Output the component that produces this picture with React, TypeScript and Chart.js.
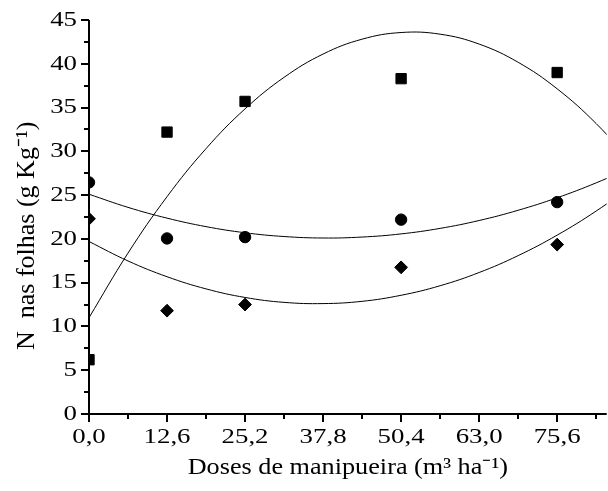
import { useEffect, useRef } from 'react';
import { Chart, registerables } from 'chart.js';

Chart.register(...registerables);

// Observed data (doses of manipueira, m3/ha)
const X_DOSES = [0, 12.6, 25.2, 50.4, 75.6];
const SQUARE_VALUES = [6.2, 32.2, 35.7, 38.3, 39.0];
const CIRCLE_VALUES = [26.45, 20.05, 20.2, 22.2, 24.2];
const DIAMOND_VALUES = [22.3, 11.8, 12.5, 16.75, 19.35];

// Fitted trend curves at regular doses
const CURVE_X = [0, 6.3, 12.6, 18.9, 25.2, 31.5, 37.8, 44.1, 50.4, 56.7, 63.0, 69.3, 75.6, 81.9, 88.2];
const SQUARE_FIT = [11.0, 18.38, 24.82, 30.31, 34.85, 38.45, 41.11, 42.81, 43.57, 43.38, 42.25, 40.17, 37.14, 33.17, 28.26];
const CIRCLE_FIT = [25.1, 23.6, 22.37, 21.4, 20.7, 20.27, 20.1, 20.21, 20.57, 21.2, 22.1, 23.27, 24.7, 26.4, 28.36];
const DIAMOND_FIT = [19.7, 17.48, 15.68, 14.29, 13.31, 12.75, 12.61, 12.87, 13.56, 14.65, 16.16, 18.09, 20.43, 23.18, 26.35];

// Axes
const X_TICKS = [0, 12.6, 25.2, 37.8, 50.4, 63.0, 75.6];
const X_TICK_LABELS = ['0,0', '12,6', '25,2', '37,8', '50,4', '63,0', '75,6'];
const X_MINOR_TICKS = [6.3, 18.9, 31.5, 44.1, 56.7, 69.3, 81.9];
const X_MIN = 0;
const X_MAX = 83.6;
const Y_TICKS = [0, 5, 10, 15, 20, 25, 30, 35, 40, 45];
const Y_TICK_LABELS = ['0', '5', '10', '15', '20', '25', '30', '35', '40', '45'];
const Y_MINOR_TICKS = [2.5, 7.5, 12.5, 17.5, 22.5, 27.5, 32.5, 37.5, 42.5];
const Y_MIN = 0;
const Y_MAX = 45;

const X_TITLE = 'Doses de manipueira (m³ ha⁻¹)';
const Y_TITLE = 'N  nas folhas (g Kg⁻¹)     \u2009';

const FONT_FAMILY = '"Liberation Serif", "Times New Roman", serif';
const TICK_FONT_SIZE = 22;
const X_TITLE_FONT_SIZE = 23;
const Y_TITLE_FONT_SIZE = 26;
// the reference's horizontal texts are drawn wider than a plain Times face
const TEXT_STRETCH: Record<number, number> = { 22: 1.22, 23: 1.14 };

const pts = (xs: number[], ys: number[]) => xs.map((x, i) => ({ x, y: ys[i] }));

const stretchPlugin = {
  id: 'textStretch',
  beforeDraw(chart: any) {
    const ctx = chart.ctx as any;
    if (ctx.__origFillText) return;
    const orig = ctx.fillText;
    ctx.__origFillText = orig;
    ctx.fillText = function (text: string, x: number, y: number, maxWidth?: number) {
      const m = /(\d+(?:\.\d+)?)px/.exec(this.font);
      const k = m ? TEXT_STRETCH[Math.round(parseFloat(m[1]))] || 1 : 1;
      const call = (tx: number, ty: number) =>
        maxWidth === undefined ? orig.call(this, text, tx, ty) : orig.call(this, text, tx, ty, maxWidth);
      if (k === 1) return call(x, y);
      this.save();
      this.translate(x, y);
      this.scale(k, 1);
      call(0, 0);
      this.restore();
    };
  },
  beforeDatasetsDraw(chart: any) {
    const ctx = chart.ctx as any;
    if (ctx.__origFillText) {
      ctx.fillText = ctx.__origFillText;
      delete ctx.__origFillText;
    }
  },
};

const axesPlugin = {
  id: 'axesTicks',
  afterDraw(chart: any) {
    const { ctx, chartArea, scales } = chart;
    const { left, right, top, bottom } = chartArea;
    const xs = scales.x;
    const ys = scales.y;
    ctx.save();
    ctx.strokeStyle = '#000';
    ctx.lineWidth = 2;
    ctx.lineCap = 'butt';
    ctx.beginPath();
    ctx.moveTo(left, top);
    ctx.lineTo(left, bottom + 1);
    ctx.moveTo(left - 1, bottom);
    ctx.lineTo(right, bottom);
    X_TICKS.forEach((v) => {
      const p = Math.round(xs.getPixelForValue(v));
      ctx.moveTo(p, bottom);
      ctx.lineTo(p, bottom + 8);
    });
    X_MINOR_TICKS.forEach((v) => {
      const p = Math.round(xs.getPixelForValue(v));
      ctx.moveTo(p, bottom);
      ctx.lineTo(p, bottom + 5);
    });
    Y_TICKS.forEach((v) => {
      const p = Math.round(ys.getPixelForValue(v));
      ctx.moveTo(left, p);
      ctx.lineTo(left - 8, p);
    });
    Y_MINOR_TICKS.forEach((v) => {
      const p = Math.round(ys.getPixelForValue(v));
      ctx.moveTo(left, p);
      ctx.lineTo(left - 5, p);
    });
    ctx.stroke();
    ctx.restore();
  },
};

export default function App() {
  const canvasRef = useRef<HTMLCanvasElement | null>(null);

  useEffect(() => {
    if (!canvasRef.current) return;
    const pointDataset = (data: number[], style: string, radius: number) => ({
      type: 'scatter' as const,
      data: pts(X_DOSES, data),
      showLine: false,
      pointStyle: style,
      pointRadius: radius,
      pointBackgroundColor: '#000',
      pointBorderColor: '#000',
      pointBorderWidth: 1,
      clip: 0,
    });
    const curveDataset = (data: number[]) => ({
      type: 'line' as const,
      data: pts(CURVE_X, data),
      showLine: true,
      borderColor: '#000',
      borderWidth: 1,
      pointRadius: 0,
      tension: 0.4,
      fill: false,
      clip: 0,
    });

    const chart = new Chart(canvasRef.current, {
      type: 'scatter',
      data: {
        datasets: [
          curveDataset(SQUARE_FIT),
          curveDataset(CIRCLE_FIT),
          curveDataset(DIAMOND_FIT),
          pointDataset(SQUARE_VALUES, 'rect', 7.3),
          pointDataset(CIRCLE_VALUES, 'circle', 5.7),
          pointDataset(DIAMOND_VALUES, 'rectRot', 6.4),
        ] as any,
      },
      options: {
        animation: false,
        responsive: true,
        maintainAspectRatio: false,
        layout: { padding: { top: 20, right: 1, left: 0, bottom: 0 } },
        plugins: {
          legend: { display: false },
          tooltip: { enabled: false },
        },
        scales: {
          x: {
            type: 'linear',
            min: X_MIN,
            max: X_MAX,
            afterBuildTicks: (s: any) => {
              s.ticks = X_TICKS.map((v) => ({ value: v }));
            },
            afterFit: (s: any) => {
              s.height = 77;
              s.paddingLeft = 0;
              s.paddingRight = 0;
            },
            ticks: {
              autoSkip: false,
              maxRotation: 0,
              padding: 10,
              color: '#000',
              font: { family: FONT_FAMILY, size: TICK_FONT_SIZE },
              callback: (_v: any, i: number) => X_TICK_LABELS[i] ?? '',
            },
            grid: { display: false, drawTicks: false },
            border: { display: false },
            title: {
              display: true,
              text: X_TITLE,
              color: '#000',
              font: { family: FONT_FAMILY, size: X_TITLE_FONT_SIZE },
              padding: { top: 0, bottom: 9 },
            },
          },
          y: {
            type: 'linear',
            min: Y_MIN,
            max: Y_MAX,
            afterBuildTicks: (s: any) => {
              s.ticks = Y_TICKS.map((v) => ({ value: v }));
            },
            afterFit: (s: any) => {
              s.width = 89;
              s.paddingTop = 0;
              s.paddingBottom = 0;
            },
            ticks: {
              autoSkip: false,
              padding: 12,
              color: '#000',
              font: { family: FONT_FAMILY, size: TICK_FONT_SIZE },
              callback: (_v: any, i: number) => Y_TICK_LABELS[i] ?? '',
            },
            grid: { display: false, drawTicks: false },
            border: { display: false },
            title: {
              display: true,
              text: Y_TITLE,
              color: '#000',
              font: { family: FONT_FAMILY, size: Y_TITLE_FONT_SIZE },
              padding: { top: 12, bottom: 0 },
            },
          },
        },
      },
      plugins: [stretchPlugin, axesPlugin],
    });
    return () => chart.destroy();
  }, []);

  return (
    <div style={{ position: 'absolute', left: 0, top: 0, width: '608px', height: '491px', overflow: 'hidden' }}>
      <div style={{ position: 'relative', width: '615px', height: '491px' }}>
        <canvas ref={canvasRef} />
      </div>
    </div>
  );
}
